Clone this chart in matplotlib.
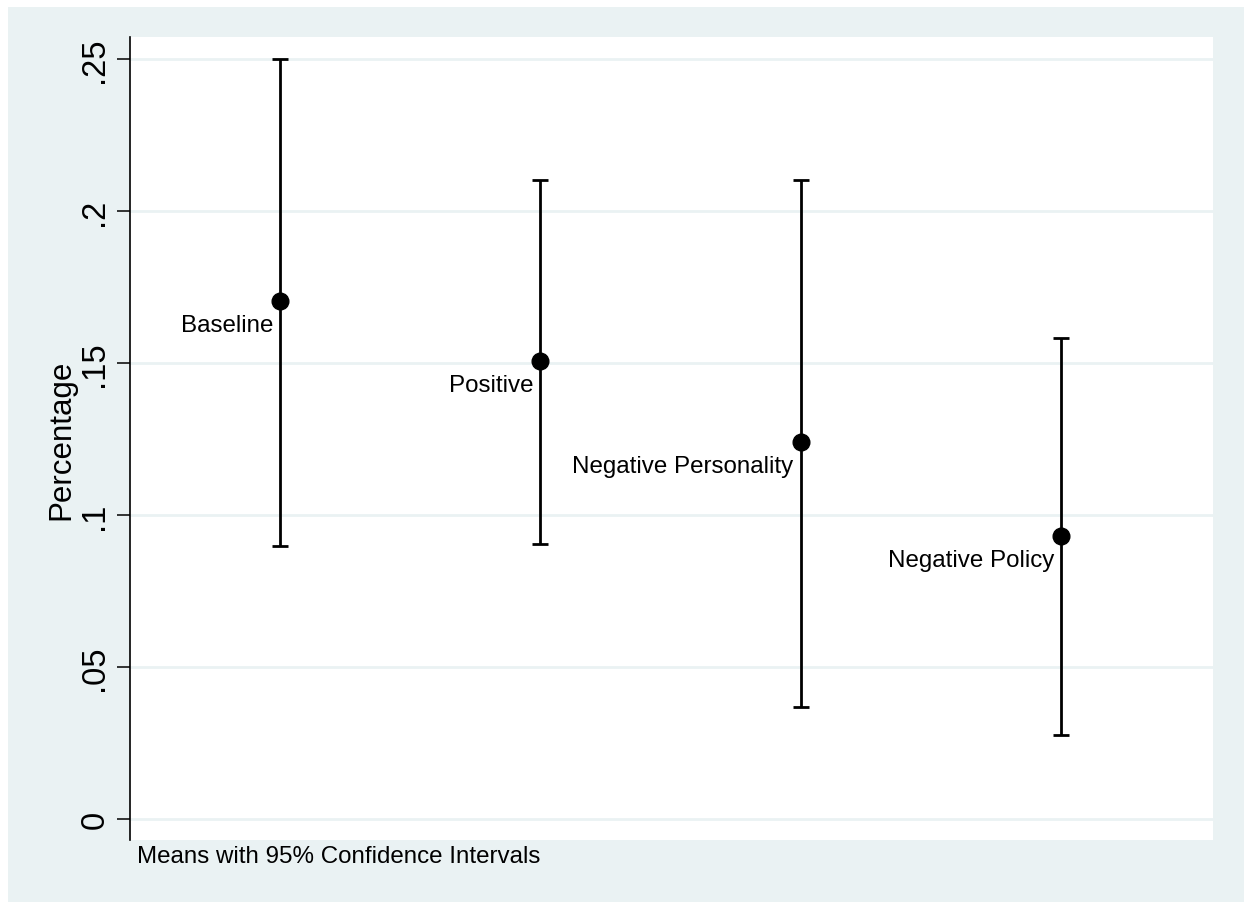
import matplotlib
matplotlib.use("Agg")
import matplotlib.pyplot as plt
from matplotlib.patches import Rectangle

plt.rcParams['font.family'] = ['Liberation Sans', 'DejaVu Sans']

# Group means and 95% confidence bounds
groups = ["Baseline", "Positive", "Negative Personality", "Negative Policy"]
means = [0.1704, 0.1507, 0.1240, 0.0931]
lower = [0.0898, 0.0905, 0.0368, 0.0276]
upper = [0.2500, 0.2102, 0.2102, 0.1582]
yticks = [0, 0.05, 0.10, 0.15, 0.20, 0.25]
ytick_labels = ["0", ".05", ".1", ".15", ".2", ".25"]

W, H = 1244, 903
bg = "#eaf2f3"

fig = plt.figure(figsize=(W / 100, H / 100), dpi=100, facecolor="white")
fig.patches.append(Rectangle((8 / W, 0), 1 - 8 / W, 1 - 8 / H,
                             transform=fig.transFigure, facecolor=bg,
                             edgecolor="none", zorder=-10))

ax = fig.add_axes([130 / W, (H - 841) / H, (1213 - 130) / W, (841 - 38) / H])
ax.set_facecolor("white")

x = list(range(1, len(groups) + 1))
err_lo = [m - l for m, l in zip(means, lower)]
err_hi = [u - m for m, u in zip(means, upper)]
ax.errorbar(x, means, yerr=[err_lo, err_hi], fmt="o", color="black",
            ecolor="black", elinewidth=2.0, capsize=6, capthick=2.0,
            markersize=12, zorder=3)

for xi, m, name in zip(x, means, groups):
    ax.annotate(name, (xi, m), xytext=(-5, -17.5), textcoords="offset points",
                ha="right", va="center", fontsize=17.4, color="black")

ax.set_xlim(1 - 150 / 260.3, 4 + 152 / 260.3)
ax.set_ylim(-21 / 3040, 0.25 + 22 / 3040)
ax.set_xticks([])
ax.set_yticks(yticks)
ax.set_yticklabels(ytick_labels, rotation=90, va="center", fontsize=23.5)
ax.tick_params(axis="y", length=9.4, width=1.1, pad=4.8, color="black")
ax.yaxis.grid(True, color=bg, linewidth=2.0)
ax.set_axisbelow(True)

for side in ["top", "right", "bottom"]:
    ax.spines[side].set_visible(False)
ax.spines["left"].set_linewidth(1.2)

ax.set_ylabel("Percentage", fontsize=22.5)
ax.yaxis.set_label_coords(-54 / 1083, 0.5)

fig.text(137 / W, 1 - 857 / H, "Means with 95% Confidence Intervals",
         ha="left", va="center", fontsize=17.4)

fig.savefig("out.png", dpi=100, facecolor=fig.get_facecolor())
